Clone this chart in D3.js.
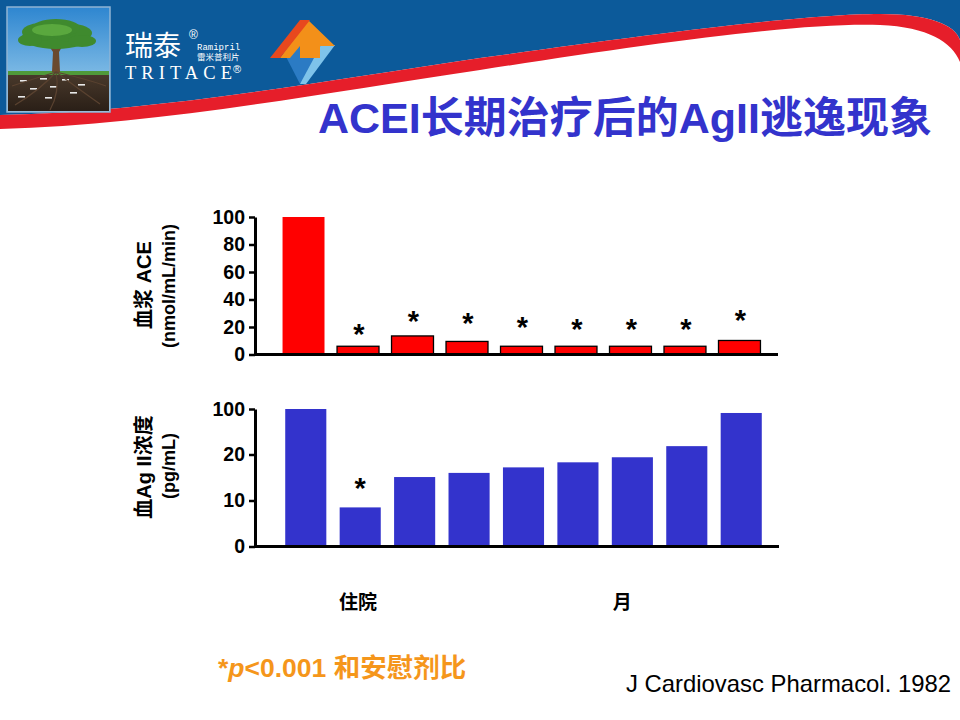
<!DOCTYPE html>
<html>
<head>
<meta charset="utf-8">
<script src="https://cdn.jsdelivr.net/npm/d3@7/dist/d3.min.js"></script>
<style>
  html, body { margin: 0; padding: 0; background: #ffffff; }
  svg { display: block; }
  text { font-family: "Liberation Sans", Arial, "Noto Sans CJK SC", sans-serif; }
</style>
</head>
<body>
<svg id="chart" width="960" height="720"></svg>
<script>
// ---------------- data ----------------
const categories = ["t0", "t1", "t2", "t3", "t4", "t5", "t6", "t7", "t8"];
const aceValues  = [100, 6, 13.5, 9.5, 6, 6, 6, 6, 10.2];
const aceStars   = [null, 18.5, 28, 26.3, 23.9, 22.2, 22.2, 22.2, 28.7];
const angValues  = [100, 8.5, 15.1, 16, 17.2, 18.3, 19.4, 34.7, 93];
const angStars   = [null, 13.7, null, null, null, null, null, null, null];
const aceTicks   = [0, 20, 40, 60, 80, 100];
const angTicks   = [0, 10, 20, 100];
const xLabels    = ["住院", "月"];
const xLabelPos  = [1, 5.85];

const svg = d3.select("#chart");

// ---------------- header decoration ----------------
const hdr = svg.append("g");
hdr.append("path")
  .attr("d", "M0,0 H960 V40 C955,25 930,14 880,14 C800,14 640,36 480,58 C300,85 150,112 0,115 Z")
  .attr("fill", "#0C5A9A");
hdr.append("path")
  .attr("d", "M0,115 C150,112 300,85 480,58 C640,36 800,14 880,14 C930,14 955,25 960,40 V62 C952,42 928,27 880,25 C800,22 640,45 480,70 C300,97 150,125 0,129 Z")
  .attr("fill", "#E61E2A");

// logo photo box
const defs = svg.append("defs");
const sky = defs.append("linearGradient").attr("id", "sky").attr("x1", 0).attr("y1", 0).attr("x2", 0).attr("y2", 1);
sky.append("stop").attr("offset", "0%").attr("stop-color", "#2E86D0");
sky.append("stop").attr("offset", "100%").attr("stop-color", "#A8D6F0");
const soil = defs.append("linearGradient").attr("id", "soil").attr("x1", 0).attr("y1", 0).attr("x2", 0).attr("y2", 1);
soil.append("stop").attr("offset", "0%").attr("stop-color", "#4a3a2c");
soil.append("stop").attr("offset", "100%").attr("stop-color", "#2a1f17");
const logo = svg.append("g");
logo.append("rect").attr("x", 7).attr("y", 7).attr("width", 103).attr("height", 105)
  .attr("fill", "url(#sky)").attr("stroke", "#8fb4d4").attr("stroke-width", 1.5);
logo.append("rect").attr("x", 8).attr("y", 73).attr("width", 101).attr("height", 38).attr("fill", "url(#soil)");
logo.append("rect").attr("x", 8).attr("y", 71).attr("width", 101).attr("height", 4).attr("fill", "#4f9a3a");
logo.append("path").attr("d", "M52,72 L53,52 L49,46 L54,48 L56,40 L58,48 L63,45 L59,52 L60,72 Z").attr("fill", "#6a4a2e");
[[56, 37, 34, 12], [40, 32, 18, 9], [72, 33, 20, 9], [56, 28, 24, 9], [30, 40, 12, 6], [82, 41, 14, 6]].forEach(e => {
  logo.append("ellipse").attr("cx", e[0]).attr("cy", e[1]).attr("rx", e[2]).attr("ry", e[3]).attr("fill", "#3f8a2e");
});
logo.append("ellipse").attr("cx", 52).attr("cy", 30).attr("rx", 20).attr("ry", 6).attr("fill", "#5aa83e");
[[20, 80], [40, 78], [62, 79], [30, 88], [50, 86], [70, 92], [18, 96], [45, 97], [78, 84]].forEach(p => {
  logo.append("rect").attr("x", p[0]).attr("y", p[1]).attr("width", 7).attr("height", 1.6).attr("fill", "#e8e8e8");
});
logo.selectAll("path.root").data(["M56,72 Q40,90 15,105", "M56,72 Q60,92 50,110", "M56,72 Q80,90 100,104", "M56,72 Q30,80 12,86", "M56,72 Q90,80 106,86"])
  .join("path").attr("class", "root").attr("d", d => d).attr("fill", "none").attr("stroke", "#5a4230").attr("stroke-width", 1.2);

// brand text
svg.append("text").attr("x", 125).attr("y", 56).attr("fill", "#ffffff").attr("font-size", 28).text("瑞泰");
svg.append("text").attr("x", 189).attr("y", 39).attr("fill", "#ffffff").attr("font-size", 12).text("®");
svg.append("text").attr("x", 197).attr("y", 50).attr("fill", "#ffffff").attr("font-size", 9)
  .style("font-family", "'Liberation Mono', 'DejaVu Sans Mono', monospace").text("Ramipril");
svg.append("text").attr("x", 197).attr("y", 60).attr("fill", "#ffffff").attr("font-size", 8.5).text("雷米普利片");
svg.append("text").attr("x", 125).attr("y", 79).attr("fill", "#ffffff").attr("font-size", 18.5)
  .style("font-family", "'Liberation Serif', 'DejaVu Serif', serif")
  .attr("textLength", 107).attr("lengthAdjust", "spacing").text("TRITACE");
svg.append("text").attr("x", 233).attr("y", 73).attr("fill", "#ffffff").attr("font-size", 11).text("®");

// second logo
const lg2 = svg.append("g");
lg2.append("polygon").attr("points", "280,45 335,45 300,84").attr("fill", "#2B7BC4");
lg2.append("polygon").attr("points", "321,45 335,45 306,84 300,84").attr("fill", "#7EC3EA");
lg2.append("polygon").attr("points", "280,58 308,20 335,46 320,46 320,58 300,58 300,46 290,58").attr("fill", "#F39019");
lg2.append("polygon").attr("points", "270,58 300,20 310,20 280,58").attr("fill", "#E8481E");

// title
svg.append("text").attr("x", 318).attr("y", 133).attr("fill", "#3333CC")
  .attr("font-size", 43).attr("font-weight", "bold").text("ACEI长期治疗后的AgII逃逸现象");

// ---------------- charts ----------------
const xTop = d3.scaleBand().domain(categories).range([262, 781]).paddingInner(0.23).paddingOuter(0.377);
const xBot = d3.scaleBand().domain(categories).range([264, 783]).paddingInner(0.245).paddingOuter(0.39);
const yTop = d3.scaleLinear().domain([0, 100]).range([354.5, 217]);
const yBot = d3.scaleLinear().domain([0, 10, 20, 100]).range([546.5, 500.5, 454.5, 409]);

function styleAxis(g) {
  g.selectAll(".domain").attr("stroke", "#000").attr("stroke-width", 3);
  g.selectAll(".tick line").attr("stroke", "#000").attr("stroke-width", 2.5);
  g.selectAll(".tick text").attr("fill", "#000").attr("font-size", 19.5).attr("font-weight", "bold")
    .style("font-family", "'Liberation Sans', Arial, sans-serif");
}

// top chart
const gTop = svg.append("g");
gTop.selectAll("rect.bar").data(aceValues).join("rect").attr("class", "bar")
  .attr("x", (d, i) => xTop(categories[i]))
  .attr("width", xTop.bandwidth())
  .attr("y", d => yTop(d))
  .attr("height", d => yTop(0) - yTop(d))
  .attr("fill", "#FF0000")
  .attr("stroke", (d, i) => i === 0 ? "none" : "#000")
  .attr("stroke-width", 1.3);
const axTop = gTop.append("g").attr("transform", "translate(255,0)")
  .call(d3.axisLeft(yTop).tickValues(aceTicks).tickSize(6).tickSizeOuter(0).tickPadding(4));
styleAxis(axTop);
gTop.append("line").attr("x1", 254).attr("x2", 778).attr("y1", yTop(0)).attr("y2", yTop(0))
  .attr("stroke", "#000").attr("stroke-width", 3);
gTop.selectAll("text.star").data(aceStars.map((s, i) => ({ s, i })).filter(d => d.s !== null))
  .join("text").attr("class", "star")
  .attr("x", d => xTop(categories[d.i]) + xTop.bandwidth() / 2 + 1)
  .attr("y", d => yTop(d.s) + 15)
  .attr("text-anchor", "middle").attr("font-size", 29).attr("font-weight", "bold").attr("fill", "#000")
  .text("*");

// bottom chart
const gBot = svg.append("g");
gBot.selectAll("rect.bar").data(angValues).join("rect").attr("class", "bar")
  .attr("x", (d, i) => xBot(categories[i]))
  .attr("width", xBot.bandwidth())
  .attr("y", d => yBot(d))
  .attr("height", d => yBot(0) - yBot(d))
  .attr("fill", "#3333CC");
const axBot = gBot.append("g").attr("transform", "translate(255,0)")
  .call(d3.axisLeft(yBot).tickValues(angTicks).tickSize(6).tickSizeOuter(0).tickPadding(4));
styleAxis(axBot);
gBot.append("line").attr("x1", 254).attr("x2", 779).attr("y1", yBot(0)).attr("y2", yBot(0))
  .attr("stroke", "#000").attr("stroke-width", 3);
gBot.selectAll("text.star").data(angStars.map((s, i) => ({ s, i })).filter(d => d.s !== null))
  .join("text").attr("class", "star")
  .attr("x", d => xBot(categories[d.i]) + xBot.bandwidth() / 2)
  .attr("y", d => yBot(d.s) + 15)
  .attr("text-anchor", "middle").attr("font-size", 29).attr("font-weight", "bold").attr("fill", "#000")
  .text("*");

// y-axis titles
function yTitle(x, y, txt, size) {
  svg.append("text").attr("transform", `translate(${x},${y}) rotate(-90)`)
    .attr("text-anchor", "middle").attr("dominant-baseline", "central")
    .attr("font-size", size).attr("font-weight", "bold").attr("fill", "#000").text(txt);
}
yTitle(144, 285, "血浆 ACE", 20);
yTitle(169, 286, "(nmol/mL/min)", 18);
yTitle(144, 467, "血Ag II浓度", 20);
yTitle(169, 466, "(pg/mL)", 18);

// x labels
svg.selectAll("text.xl").data(xLabels).join("text").attr("class", "xl")
  .attr("x", (d, i) => {
    const p = xLabelPos[i], a = Math.floor(p), f = p - a;
    const c0 = xTop(categories[a]) + xTop.bandwidth() / 2;
    const c1 = a + 1 < categories.length ? xTop(categories[a + 1]) + xTop.bandwidth() / 2 : c0;
    return c0 + (c1 - c0) * f;
  })
  .attr("y", 609).attr("text-anchor", "middle")
  .attr("font-size", 19).attr("font-weight", "bold").attr("fill", "#000").text(d => d);

// footer
const note = svg.append("text").attr("x", 218).attr("y", 677).attr("fill", "#F5961B")
  .attr("font-size", 26.5).attr("font-weight", "bold");
note.append("tspan").text("*");
note.append("tspan").attr("font-style", "italic").text("p");
note.append("tspan").text("<0.001 和安慰剂比");

svg.append("text").attr("x", 626).attr("y", 692).attr("fill", "#000").attr("font-size", 24)
  .attr("textLength", 325).attr("lengthAdjust", "spacingAndGlyphs")
  .text("J Cardiovasc Pharmacol. 1982");
</script>
</body>
</html>
